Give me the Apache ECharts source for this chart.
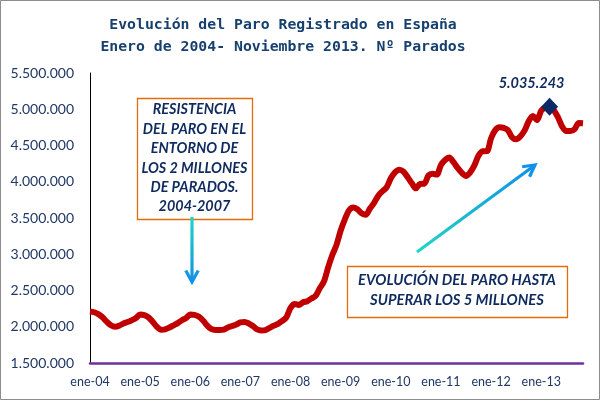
<!DOCTYPE html>
<html>
<head>
<meta charset="utf-8">
<script src="https://cdn.jsdelivr.net/npm/echarts@6/dist/echarts.min.js"></script>
<style>
html,body{margin:0;padding:0;background:#fff;}
#c{width:601px;height:401px;}
</style>
</head>
<body>
<div id="c"></div>
<script>
// ---- data ----
const monthNames = ['ene','feb','mar','abr','may','jun','jul','ago','sep','oct','nov','dic'];
const years = ['04','05','06','07','08','09','10','11','12','13'];
const paro2004 = [2210000,2200000,2175000,2130000,2070000,2020000,2000000,2015000,2045000,2065000,2090000,2120000];
const paro2005 = [2170000,2160000,2130000,2070000,2000000,1960000,1965000,1990000,2020000,2050000,2090000,2120000];
const paro2006 = [2170000,2165000,2140000,2090000,2020000,1970000,1955000,1955000,1960000,1990000,2010000,2030000];
const paro2007 = [2060000,2065000,2045000,2010000,1965000,1950000,1955000,1985000,2015000,2040000,2080000,2130000];
const paro2008 = [2261000,2315000,2300000,2338000,2353000,2390000,2426000,2530000,2625000,2819000,2989000,3129000];
const paro2009 = [3328000,3482000,3605000,3645000,3620000,3565000,3544000,3630000,3709000,3808000,3869000,3924000];
const paro2010 = [4048000,4130000,4167000,4142000,4066000,3982000,3909000,3970000,3972000,4086000,4110000,4100000];
const paro2011 = [4231000,4299000,4334000,4270000,4190000,4122000,4080000,4130000,4226000,4361000,4420000,4422000];
const paro2012 = [4600000,4712000,4751000,4744000,4714000,4615000,4587000,4626000,4705000,4834000,4908000,4849000];
const paro2013 = [4981000,5025000,5035243,4989000,4890000,4763000,4699000,4699000,4725000,4812000,4808000];
const peakMonth = 'mar-13';
const yMin = 1500000, yMax = 5500000, yStep = 500000;

const title = 'Evolución del Paro Registrado en España\nEnero de 2004- Noviembre 2013. Nº Parados';
const note1 = 'RESISTENCIA\nDEL PARO EN EL\nENTORNO DE\nLOS 2 MILLONES\nDE PARADOS.\n2004-2007';
const note2 = 'EVOLUCIÓN DEL PARO HASTA\nSUPERAR LOS 5 MILLONES';

// ---- build ----
const values = [].concat(paro2004,paro2005,paro2006,paro2007,paro2008,paro2009,paro2010,paro2011,paro2012,paro2013);
const categories = [];
years.forEach(y => monthNames.forEach(m => categories.push(m + '-' + y)));
categories.length = values.length;
const peakIdx = categories.indexOf(peakMonth);
const fmt = v => String(Math.round(v)).replace(/\B(?=(\d{3})+(?!\d))/g, '.');

const navy = '#1f3864';
const labelFont = 'Lato';
const arrowGrad = (x1,y1,x2,y2) => ({type:'linear', x:x1, y:y1, x2:x2, y2:y2, global:true,
  colorStops:[{offset:0,color:'#22d6c2'},{offset:1,color:'#108fe8'}]});

function arrow(x1,y1,x2,y2){
  const dx=x2-x1, dy=y2-y1, L=Math.hypot(dx,dy), ux=dx/L, uy=dy/L;
  const a=0.5, len=13;
  const ca=Math.cos(a), sa=Math.sin(a);
  const l1=[x2-len*(ux*ca-uy*sa), y2-len*(uy*ca+ux*sa)];
  const l2=[x2-len*(ux*ca+uy*sa), y2-len*(uy*ca-ux*sa)];
  const g=arrowGrad(x1,y1,x2,y2);
  return [
    {type:'line', shape:{x1:x1,y1:y1,x2:x2-ux*2,y2:y2-uy*2}, style:{stroke:g,lineWidth:3.2}, z:50},
    {type:'polyline', shape:{points:[l1,[x2,y2],l2]}, style:{stroke:g,lineWidth:3.2,fill:null,lineJoin:'miter'}, z:50}
  ];
}

const chart = echarts.init(document.getElementById('c'), null, {renderer:'canvas'});
chart.setOption({
  backgroundColor:'#fff',
  animation:false,
  title:{
    text:title, left:278, top:9, textAlign:'center',
    textStyle:{fontFamily:'DejaVu Sans Mono', fontWeight:'bold', fontSize:14.8, color:'#17406e', lineHeight:22}
  },
  grid:{left:90, right:18, top:73, bottom:38},
  xAxis:{
    type:'category', data:categories, boundaryGap:false,
    axisLine:{lineStyle:{color:'#7030a0', width:2.5}},
    axisTick:{show:false},
    axisLabel:{interval:11, color:navy, fontFamily:labelFont, fontSize:12.5, margin:12}
  },
  yAxis:{
    type:'value', min:yMin, max:yMax, interval:yStep,
    axisLine:{show:true, lineStyle:{color:'#000', width:1}},
    axisTick:{show:false},
    splitLine:{show:false},
    axisLabel:{formatter:fmt, color:navy, fontFamily:labelFont, fontSize:14, margin:16}
  },
  series:[
    {type:'line', data:values, smooth:0.3, showSymbol:false, lineStyle:{color:'#c00000', width:6}, itemStyle:{color:'#c00000'}, z:3},
    {type:'scatter', data:[[peakIdx, values[peakIdx]]], symbol:'diamond', symbolSize:[17,18], itemStyle:{color:'#0d2a66', opacity:1}, z:5,
     label:{show:true, position:'top', distance:7, offset:[-18,0], formatter:p=>fmt(p.value[1]),
       fontFamily:labelFont, fontStyle:'italic', fontWeight:'bold', fontSize:14.5, color:'#0f2a5e'}}
  ],
  graphic:[
    {type:'rect', shape:{x:0.5,y:0.5,width:599,height:399}, style:{fill:null, stroke:'#8c8c8c', lineWidth:1}, z:0, silent:true},
    {type:'rect', shape:{x:137.5,y:98.5,width:115,height:121}, style:{fill:'#fff', stroke:'#e46c0a', lineWidth:1.3}, z:40},
    {type:'text', x:194.5, y:100, style:{text:note1, textAlign:'center', fontFamily:labelFont, fontStyle:'italic', fontWeight:'bold', fontSize:14.4, lineHeight:19.4, fill:'#0f2a5e'}, z:41},
    {type:'rect', shape:{x:347.5,y:266.5,width:220,height:51}, style:{fill:'#fff', stroke:'#e46c0a', lineWidth:1.3}, z:40},
    {type:'text', x:457, y:270, style:{text:note2, textAlign:'center', fontFamily:labelFont, fontStyle:'italic', fontWeight:'bold', fontSize:14.8, lineHeight:20, fill:'#0f2a5e'}, z:41}
  ].concat(arrow(192,217,192,282)).concat(arrow(417,252,535,165))
});
</script>
</body>
</html>
